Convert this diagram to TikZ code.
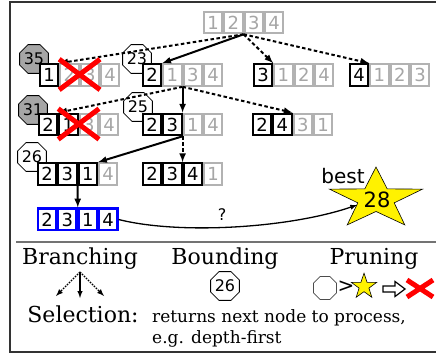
\documentclass[tikz,border=0pt]{standalone}
\usepackage{fontspec}
\setmainfont{DejaVu Serif}
\setsansfont{DejaVu Sans}
\usetikzlibrary{shapes.geometric,arrows}
\tikzset{
pics/prize/.style={
code={
\draw[fill=yellow,line width=.6pt] (90:1) -- (126:.39) -- (162:1) -- (198:.39) -- (234:1) -- (270:.39) -- (306:1) -- (342:.39) -- (18:1) -- (54:.39) -- cycle;
}},
cell/.style={draw,fill=white,line width=2pt,minimum width=18.4pt,minimum height=21.6pt,inner sep=0pt,font=\sffamily\fontsize{18}{18}\selectfont},
fixed/.style={cell,draw=black},
free/.style={cell,draw=black!30,text=black!35},
final/.style={cell,draw=blue,line width=2.4pt},
bound/.style={regular polygon,regular polygon sides=8,draw,line width=.8pt,minimum size=25pt,inner sep=0pt,font=\sffamily\fontsize{16}{16}\selectfont},
pruned/.style={bound,fill=black!35},
branch/.style={-latex,line width=2pt},
maybe/.style={branch,dash pattern=on 3.5pt off 2.5pt},
cross/.style={red,line width=5pt},
txt/.style={inner sep=0pt},
heading/.style={txt,font=\fontsize{22}{22}\selectfont},
}

\begin{document}
\begin{tikzpicture}[x=1pt,y=-1pt]
\useasboundingbox (0,0) rectangle (436,355);
\draw[line width=1.2pt,black!80] (438,2) -- (10,2) -- (10,352) -- (438,352);
\draw[line width=1.2pt,black!55] (16,242) -- (438,242);
\foreach \v/\x/\y/\t in {35/34/59/pruned,23/137/59/bound,31/33/110/pruned,25/138/107/bound,26/32/157/bound}
\node[\t] (o\v) at (\x,\y) {\v};
\foreach \n/\x/\y/\k/\ds in {r/213/22.5/0/{1,2,3,4},a/49/75/1/{1,2,3,4},b/152/75/1/{2,1,3,4},c/263/75/1/{3,1,2,4},d/359/75/1/{4,1,2,3},e/48/124.5/2/{2,1,3,4},f/152/124.5/2/{2,3,1,4},g/262/124.5/2/{2,4,3,1},h/47/174/3/{2,3,1,4},i/152/174/3/{2,3,4,1}}
\foreach \d [count=\i] in \ds {
\ifnum\i>\k \def\cellstyle{free}\else\def\cellstyle{fixed}\fi
\node[\cellstyle] (\n-\i) at ({\x+(\i-1)*20.4},\y) {\d};
}
\foreach \d [count=\i] in {2,3,1,4}
\node[final] (j-\i) at ({47+(\i-1)*20.4},219.5) {\d};
\begin{scope}[branch]
\draw (r-2.south east) -- (b-1.north east);
\draw (b-2.south east) -- (f-2.north east);
\draw (f-2.south east) -- (h-3.north east);
\draw (h-2.south east) -- (j-2.north east);
\end{scope}
\begin{scope}[maybe]
\draw (r-2.south east) -- (a-1.north east);
\draw (r-2.south east) -- (c-1.north east);
\draw (r-2.south east) -- (d-1.north east);
\draw (b-2.south east) -- (e-1.north east);
\draw (b-2.south east) -- (g-2.north east);
\draw (f-2.south east) -- (i-2.north east);
\end{scope}
\foreach \n in {a,e} {
\draw[cross] ([yshift=4pt]\n-2.north west) -- ([yshift=-3pt]\n-3.south east);
\draw[cross] ([yshift=4pt]\n-3.north east) -- ([yshift=-3pt]\n-2.south west);
}
\pic[xscale=49,yscale=-32] at (376,199) {prize};
\node[font=\sffamily\fontsize{21}{21}\selectfont] (score) at (377,200) {28};
\node[font=\sffamily\fontsize{20}{20}\selectfont] (bestlabel) at (343,176) {best};
\coordinate (goal) at (357,205);
\draw[-latex,line width=1.3pt] (j-4.east) .. controls (180,235) and (290,228) .. (goal);
\node[font=\sffamily\fontsize{16}{16}\selectfont] (q) at (222,215) {?};
\node[heading,anchor=base] (branching) at (80,265) {Branching};
\node[heading,anchor=base] (bounding) at (225,265) {Bounding};
\node[heading,anchor=base] (pruning) at (374,265) {Pruning};
\coordinate (fork) at (80,272);
\coordinate (fork-l) at (56,296);
\coordinate (fork-m) at (80,298);
\coordinate (fork-r) at (104,296);
\begin{scope}[-latex,line width=1.4pt]
\draw[dash pattern=on 1.6pt off 1.2pt] (fork) -- (fork-l);
\draw (fork) -- (fork-m);
\draw[dash pattern=on 1.6pt off 1.2pt] (fork) -- (fork-r);
\end{scope}
\node[bound] (o26b) at (225,286) {26};
\node[bound,draw=black!70] (empty) at (325,288) {};
\node[font=\sffamily\fontsize{20}{20}\selectfont] (gt) at (346,287) {>};
\pic[xscale=13.3,yscale=-13.3] at (364,286.5) {prize};
\draw[line width=1.2pt,fill=white] (383,286) -- (395,286) -- (395,281.5) -- (405,289) -- (395,296.5) -- (395,292) -- (383,292) -- cycle;
\draw[cross] (407,280) -- (433,297) (407,297) -- (433,280);
\node[heading,anchor=base] (selection) at (83,322) {Selection:};
\node[txt,anchor=base west,font=\fontsize{17}{17}\selectfont] (returns) at (152,322) {returns next node to process,};
\node[txt,anchor=base west,font=\fontsize{17}{17}\selectfont] (eg) at (152,343) {e.g. depth-first};
\end{tikzpicture}
\end{document}
